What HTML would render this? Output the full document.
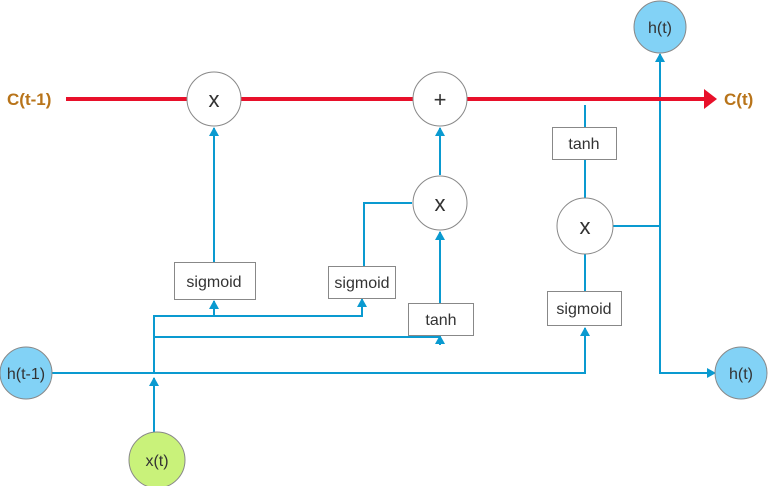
<!DOCTYPE html>
<html><head><meta charset="utf-8"><style>body{margin:0;background:#fff}svg{display:block}text{font-family:"Liberation Sans",sans-serif}</style></head><body>
<svg width="768" height="486" viewBox="0 0 768 486">
<defs>
<marker id="b" markerWidth="10" markerHeight="10" refX="8" refY="5" orient="auto" markerUnits="userSpaceOnUse"><path d="M0,0 L9,5 L0,10z" fill="#0a9ad0"/></marker>
</defs>
<g stroke="#0a9ad0" stroke-width="2" fill="none">
<path d="M52,373 H585 V328" marker-end="url(#b)"/>
<path d="M154,434 V378" marker-end="url(#b)"/>
<path d="M154,373 V316 H214 V301" marker-end="url(#b)"/>
<path d="M214,316 H362 V299" marker-end="url(#b)"/>
<path d="M154,337 H440" /><path d="M440,345 V336" marker-end="url(#b)"/>
<path d="M440,303 V232" marker-end="url(#b)"/>
<path d="M412,203 H364 V266"/>
<path d="M440,175 V128" marker-end="url(#b)"/>
<path d="M214,262 V128" marker-end="url(#b)"/>
<path d="M585,105 V127 M585,159 V198 M585,254 V291"/>
<path d="M613,226 H660 V54" marker-end="url(#b)"/>
<path d="M660,226 V373 H715" marker-end="url(#b)"/>
</g>
<path d="M66,99 H706" stroke="#e8102a" stroke-width="4"/>
<path d="M704,89 L717,99 L704,109z" fill="#e8102a"/>
<g stroke="#888" stroke-width="1" fill="#fff">
<circle cx="214" cy="99" r="27"/><circle cx="440" cy="99" r="27"/><circle cx="440" cy="203" r="27"/><circle cx="585" cy="226" r="28"/>
<rect x="174.5" y="262.5" width="81" height="37"/><rect x="328.5" y="266.5" width="67" height="32"/><rect x="408.5" y="303.5" width="65" height="32"/>
<rect x="552.5" y="127.5" width="64" height="32"/><rect x="547.5" y="291.5" width="74" height="34"/>
<circle cx="660" cy="27" r="26" fill="#82d2f6"/><circle cx="741" cy="373" r="26" fill="#82d2f6"/><circle cx="26" cy="373" r="26" fill="#82d2f6"/><circle cx="157" cy="460" r="28" fill="#c9f27a"/>
</g>
<g fill="#333" text-anchor="middle" font-size="16">
<text x="214" y="107" font-size="22">x</text><text x="440" y="107" font-size="22">+</text><text x="440" y="211" font-size="22">x</text><text x="585" y="234" font-size="22">x</text>
<text x="214" y="287">sigmoid</text><text x="362" y="288">sigmoid</text><text x="441" y="325">tanh</text><text x="584" y="149">tanh</text><text x="584" y="314">sigmoid</text>
<text x="660" y="33">h(t)</text><text x="741" y="379">h(t)</text><text x="26" y="379">h(t-1)</text><text x="157" y="466">x(t)</text>
</g>
<g fill="#b8741a" font-weight="bold" font-size="17"><text x="7" y="105">C(t-1)</text><text x="724" y="105">C(t)</text></g>
</svg>
</body></html>
